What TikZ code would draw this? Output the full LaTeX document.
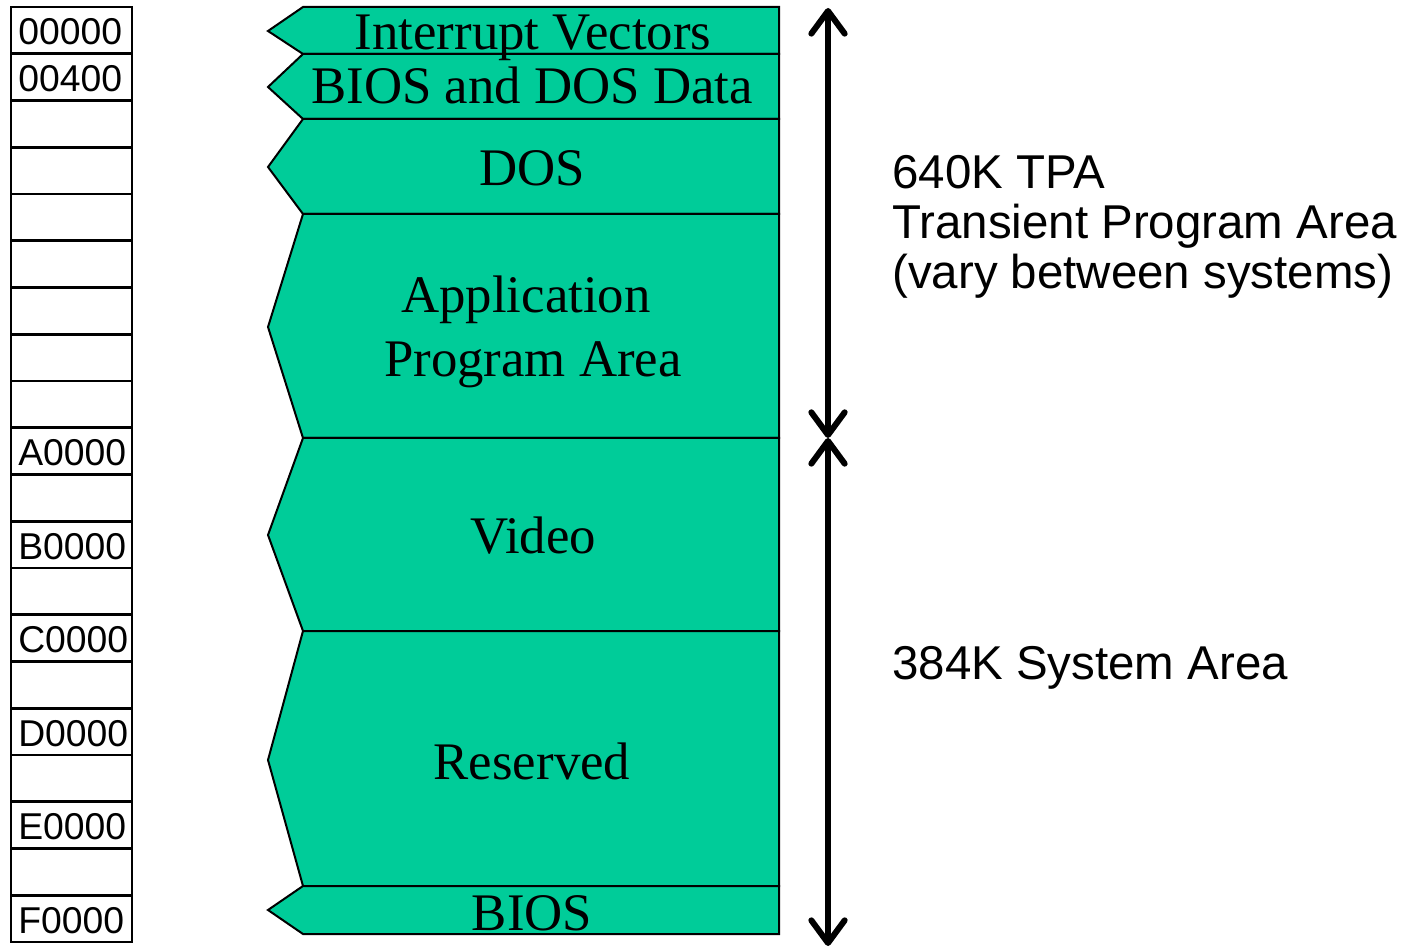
\documentclass[tikz,border=0pt]{standalone}
\usepackage{fontspec}
\setmainfont{Liberation Serif}
\setsansfont{Liberation Sans}
\usepackage{color}
\usepackage{tikz}
\usetikzlibrary{arrows.meta}

\definecolor{segfill}{RGB}{0,204,153}

\begin{document}
\begin{tikzpicture}[x=0.75pt, y=-0.75pt,
        cell/.style={draw, line width=2.2pt},
        seg/.style={draw, fill=segfill, line width=1.5pt, line join=miter},
        addr/.style={anchor=base west, inner sep=0pt, font=\sffamily\fontsize{28}{30}\selectfont},
        segtext/.style={anchor=base, inner sep=0pt, font=\fontsize{39.6}{48}\selectfont},
        sidetext/.style={anchor=base west, inner sep=0pt, align=left, font=\sffamily\fontsize{35.6}{37.5}\selectfont},
        span/.style={line width=4.5pt, {Straight Barb[length=17pt, width=25pt, round]}-{Straight Barb[length=17pt, width=25pt, round]}}]
        \useasboundingbox (0,0) rectangle (1411,948);

        \foreach \i in {0,...,19}
            \draw [cell] (11,{7+46.75*\i}) rectangle ++(121,46.75);

        \node [addr] (a00000) at (18,45) {00000};
        \node [addr] (a00400) at (18,91.75) {00400};
        \node [addr] (aA0000) at (18,465.75) {A0000};
        \node [addr] (aB0000) at (18,559.25) {B0000};
        \node [addr] (aC0000) at (18,652.75) {C0000};
        \node [addr] (aD0000) at (18,746.25) {D0000};
        \node [addr] (aE0000) at (18,839.75) {E0000};
        \node [addr] (aF0000) at (18,933.25) {F0000};

        \draw [seg] (303,7) -- (779,7) -- (779,54) -- (303,54) -- (268,31) -- cycle;
        \draw [seg] (303,54) -- (779,54) -- (779,119) -- (303,119) -- (268,87) -- cycle;
        \draw [seg] (303,119) -- (779,119) -- (779,214) -- (303,214) -- (268,167) -- cycle;
        \draw [seg] (303,214) -- (779,214) -- (779,438) -- (303,438) -- (268,327) -- cycle;
        \draw [seg] (303,438) -- (779,438) -- (779,631) -- (303,631) -- (268,535) -- cycle;
        \draw [seg] (303,631) -- (779,631) -- (779,886) -- (303,886) -- (268,760) -- cycle;
        \draw [seg] (303,886) -- (779,886) -- (779,934) -- (303,934) -- (268,910) -- cycle;

        \node [segtext] (ivt) at (533,50) {Interrupt Vectors};
        \node [segtext] (bdd) at (532,104) {BIOS and DOS Data};
        \node [segtext] (dos) at (532,186) {DOS};
        \node [segtext] (app) at (526,313) {Application};
        \node [segtext] (prg) at (533,377) {Program Area};
        \node [segtext] (vid) at (533,554) {Video};
        \node [segtext] (rsv) at (532,779) {Reserved};
        \node [segtext] (bios) at (532,930) {BIOS};

        \coordinate (tpatop) at (828,8);
        \coordinate (mid) at (828,438);
        \coordinate (sysbot) at (828,946);
        \draw [span] (tpatop) -- (mid);
        \draw [span] (mid) -- (sysbot);

        \node [sidetext] (tpa) at (892,289) {640K TPA\\Transient Program Area\\(vary between systems)};
        \node [sidetext] (sys) at (892,679) {384K System Area};
    \end{tikzpicture}
\end{document}
